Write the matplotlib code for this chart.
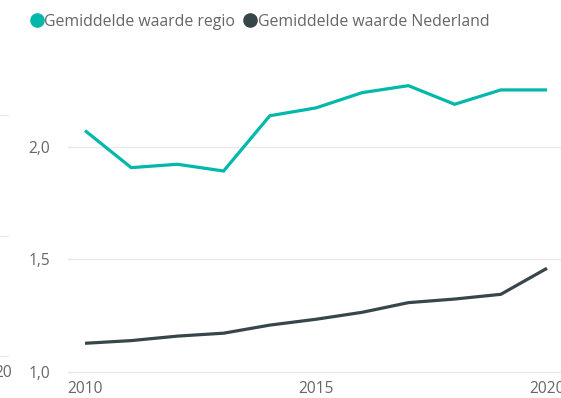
import matplotlib
matplotlib.use("Agg")
import matplotlib.pyplot as plt
from matplotlib.lines import Line2D

plt.rcParams['font.family'] = ['Open Sans', 'DejaVu Sans']

years = [2010, 2011, 2012, 2013, 2014, 2015, 2016, 2017, 2018, 2019, 2020]
regio = [2.073, 1.908, 1.923, 1.893, 2.139, 2.174, 2.242, 2.273, 2.190, 2.254, 2.254]
nederland = [1.126, 1.138, 1.158, 1.171, 1.207, 1.233, 1.264, 1.307, 1.323, 1.344, 1.460]

series_names = ["Gemiddelde waarde regio", "Gemiddelde waarde Nederland"]
series_colors = ["#01B8AA", "#374649"]
y_ticks = [1.0, 1.5, 2.0]
y_tick_labels = ["1,0", "1,5", "2,0"]
x_ticks = [2010, 2015, 2020]

W, H = 561, 398
fig = plt.figure(figsize=(W / 100, H / 100), dpi=100)
fig.patch.set_facecolor("white")

ax = fig.add_axes([68 / W, (H - 371.6) / H, (W - 68) / W, (371.6 - 45) / H])
ax.set_xlim(2010 - 17 / 46.2, 2020 + 14 / 46.2)
ax.set_ylim(1.0, 2.454)

for y in y_ticks:
    ax.axhline(y, color="#EAEAEA", lw=1.0, zorder=0, clip_on=False)

ax.plot(years, regio, color=series_colors[0], lw=2.3, solid_joinstyle="miter",
        solid_capstyle="butt", zorder=3)
ax.plot(years, nederland, color=series_colors[1], lw=2.3, solid_joinstyle="miter",
        solid_capstyle="butt", zorder=3)

for s in ax.spines.values():
    s.set_visible(False)
ax.set_yticks(y_ticks)
ax.set_yticklabels(y_tick_labels)
ax.set_xticks(x_ticks)
ax.set_xticklabels([str(x) for x in x_ticks])
ax.tick_params(axis="y", length=0, pad=13, labelsize=11.2, labelcolor="#666666")
ax.tick_params(axis="x", length=0, pad=7, labelsize=11.2, labelcolor="#666666")

# legend across the top
handles = [Line2D([], [], marker="o", linestyle="none", markersize=9.5,
                  markerfacecolor=c, markeredgecolor=c) for c in series_colors]
leg = fig.legend(handles, series_names, loc="upper left", bbox_to_anchor=(27 / W, 1 - 14 / H),
                 ncol=2, frameon=False, fontsize=11.4, handletextpad=-0.1,
                 columnspacing=0.35, handlelength=1.2, borderaxespad=0, borderpad=0)
for t in leg.get_texts():
    t.set_color("#666666")

# fragments of the neighbouring visual at the left edge
for yp in [115, 236, 356]:
    fig.add_artist(Line2D([0, 8 / W], [1 - yp / H, 1 - yp / H], color="#EAEAEA", lw=1.0))
fig.text(12 / W, 1 - 373 / H, "20", ha="right", va="center", fontsize=11.2, color="#666666")

fig.savefig("out.png", dpi=100)
